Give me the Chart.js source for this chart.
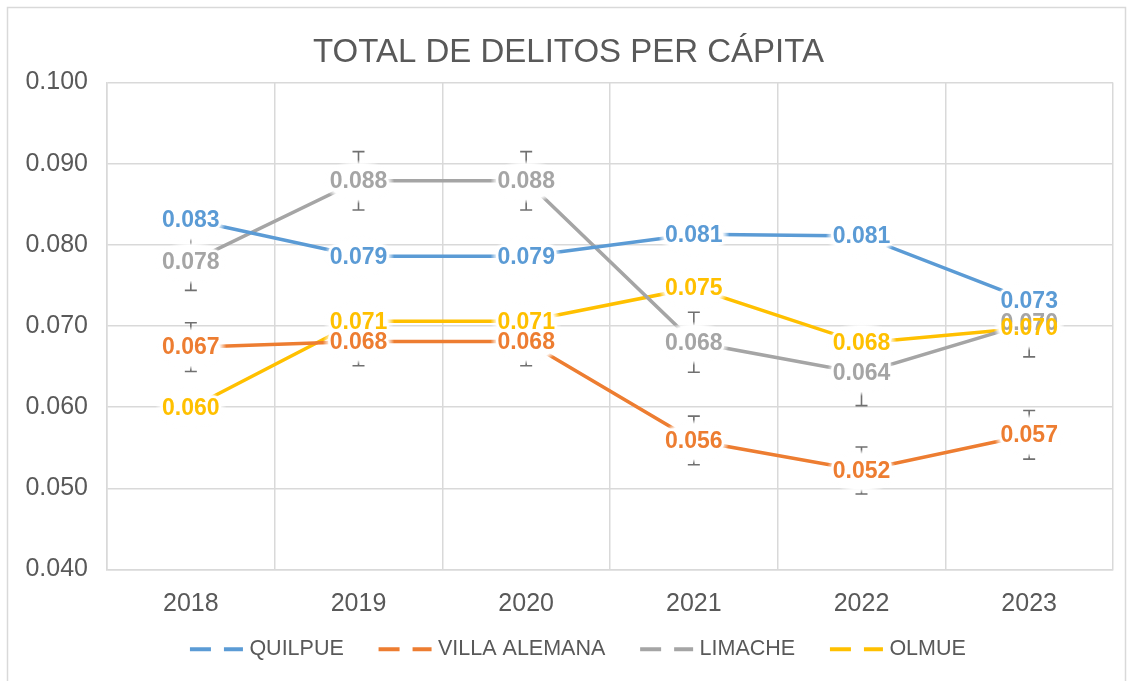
<!DOCTYPE html>
<html>
<head>
<meta charset="utf-8">
<script src="https://cdn.jsdelivr.net/npm/chart.js@4.4.1/dist/chart.umd.min.js"></script>
<style>
  html, body { margin: 0; padding: 0; background: #fff; }
  #wrap { width: 1132px; height: 681px; }
</style>
</head>
<body>
<div id="wrap"><canvas id="chart" width="1132" height="681"></canvas></div>
<script>
const years = ['2018', '2019', '2020', '2021', '2022', '2023'];
const quilpue = [0.0831, 0.0786, 0.0786, 0.0813, 0.0811, 0.0731];
const villaAlemana = [0.0674, 0.0681, 0.0681, 0.0559, 0.0522, 0.0566];
const limache = [0.0779, 0.0879, 0.0879, 0.0680, 0.0642, 0.0704];
const olmue = [0.0599, 0.0706, 0.0706, 0.0747, 0.0679, 0.0698];
const villaAlemanaErr = [0.0030, 0.0030, 0.0030, 0.0030, 0.0029, 0.0030];
const limacheErr = [0.0035, 0.0036, 0.0036, 0.0037, 0.0040, 0.0042];

const textColor = '#595959';
const gridColor = '#D9D9D9';
const fontFamily = '"Liberation Sans", Arial, sans-serif';

// legend sample: two dashes drawn on the right side of a wide transparent image
function legendDash(color) {
    const c = document.createElement('canvas');
    c.width = 102;
    c.height = 8;
    const g = c.getContext('2d');
    g.strokeStyle = color;
    g.lineWidth = 4;
    g.beginPath();
    g.moveTo(43, 4); g.lineTo(64, 4);
    g.moveTo(77, 4); g.lineTo(96, 4);
    g.stroke();
    return c;
}

// soft white oval behind a data label
function softOval(ctx, x, y, rx, ry) {
    ctx.save();
    ctx.translate(x, y);
    ctx.scale(rx / ry, 1);
    const grad = ctx.createRadialGradient(0, 0, 0, 0, 0, ry);
    grad.addColorStop(0, 'rgba(255,255,255,1)');
    grad.addColorStop(0.8, 'rgba(255,255,255,1)');
    grad.addColorStop(1, 'rgba(255,255,255,0)');
    ctx.fillStyle = grad;
    ctx.beginPath();
    ctx.arc(0, 0, ry, 0, Math.PI * 2);
    ctx.fill();
    ctx.restore();
}

const excelLook = {
    id: 'excelLook',
    afterLayout(chart) {
        // legend sits a bit left of the centre in the original
        chart.legend.left -= 7;
        chart.legend.right -= 7;
    },
    beforeDraw(chart) {
        const ctx = chart.ctx;
        ctx.save();
        ctx.strokeStyle = gridColor;
        ctx.lineWidth = 1.5;
        ctx.strokeRect(7.5, 7.5, 1118, 700);
        ctx.restore();
    },
    afterDatasetsDraw(chart) {
        const ctx = chart.ctx;
        const y = chart.scales.y;
        ctx.save();

        // error bars
        ctx.strokeStyle = '#707070';
        ctx.lineWidth = 1.6;
        chart.data.datasets.forEach((ds, i) => {
            if (!ds.errors) return;
            chart.getDatasetMeta(i).data.forEach((pt, j) => {
                const top = y.getPixelForValue(ds.data[j] + ds.errors[j]);
                const bot = y.getPixelForValue(ds.data[j] - ds.errors[j]);
                ctx.beginPath();
                ctx.moveTo(pt.x, top); ctx.lineTo(pt.x, bot);
                ctx.moveTo(pt.x - 6, top); ctx.lineTo(pt.x + 6, top);
                ctx.moveTo(pt.x - 6, bot); ctx.lineTo(pt.x + 6, bot);
                ctx.stroke();
            });
        });

        // data labels: white soft background first, then text
        ctx.font = 'bold 23px ' + fontFamily;
        ctx.textAlign = 'center';
        ctx.textBaseline = 'middle';
        const labels = [];
        chart.data.datasets.forEach((ds, i) => {
            chart.getDatasetMeta(i).data.forEach((pt, j) => {
                labels.push({ x: pt.x, y: pt.y + 1, text: ds.data[j].toFixed(3), color: ds.borderColor });
            });
        });
        labels.forEach(l => {
            const half = ctx.measureText(l.text).width / 2;
            softOval(ctx, l.x, l.y, half + 7, 22);
        });
        ctx.strokeStyle = '#fff';
        ctx.lineJoin = 'round';
        ctx.lineWidth = 5;
        labels.forEach(l => ctx.strokeText(l.text, l.x, l.y));
        labels.forEach(l => {
            ctx.fillStyle = l.color;
            ctx.fillText(l.text, l.x, l.y);
        });
        ctx.restore();
    }
};

const series = [
    { label: 'QUILPUE', data: quilpue, color: '#5B9BD5' },
    { label: 'VILLA ALEMANA', data: villaAlemana, color: '#ED7D31', errors: villaAlemanaErr },
    { label: 'LIMACHE', data: limache, color: '#A5A5A5', errors: limacheErr },
    { label: 'OLMUE', data: olmue, color: '#FFC000' }
];

new Chart(document.getElementById('chart'), {
    type: 'line',
    data: {
        labels: years,
        datasets: series.map(s => ({
            label: s.label,
            data: s.data,
            errors: s.errors,
            borderColor: s.color,
            backgroundColor: s.color,
            borderWidth: 3.5,
            pointRadius: 0,
            tension: 0,
            fill: false
        }))
    },
    options: {
        responsive: false,
        animation: false,
        layout: { padding: { left: 24, right: 19, top: 0, bottom: 11 } },
        plugins: {
            tooltip: { enabled: false },
            title: {
                display: true,
                text: 'TOTAL DE DELITOS PER CÁPITA',
                color: textColor,
                font: { family: fontFamily, size: 33, weight: 'normal', lineHeight: 1.2 },
                padding: { top: 33, bottom: 10 }
            },
            legend: {
                position: 'bottom',
                labels: {
                    color: textColor,
                    font: { family: fontFamily, size: 21.5 },
                    usePointStyle: true,
                    pointStyleWidth: 81.5,
                    padding: 2,
                    generateLabels: chart => chart.data.datasets.map((ds, i) => ({
                        text: ds.label,
                        fontColor: textColor,
                        pointStyle: legendDash(ds.borderColor),
                        datasetIndex: i,
                        lineWidth: 0,
                        strokeStyle: 'transparent',
                        fillStyle: 'transparent'
                    }))
                }
            }
        },
        scales: {
            x: {
                offset: true,
                afterFit: scale => { scale.height = 67; },
                grid: { offset: true, color: gridColor, lineWidth: 1.5, drawTicks: false },
                border: { color: gridColor, width: 1.5 },
                ticks: {
                    color: textColor,
                    padding: 20,
                    font: { family: fontFamily, size: 25 }
                }
            },
            y: {
                min: 0.04,
                max: 0.1,
                afterFit: scale => { scale.width = 83; },
                grid: { color: gridColor, lineWidth: 1.5, drawTicks: false },
                border: { color: gridColor, width: 1.5 },
                ticks: {
                    stepSize: 0.01,
                    color: textColor,
                    padding: 19,
                    font: { family: fontFamily, size: 25 },
                    callback: v => v.toFixed(3)
                }
            }
        }
    },
    plugins: [excelLook]
});
</script>
</body>
</html>
